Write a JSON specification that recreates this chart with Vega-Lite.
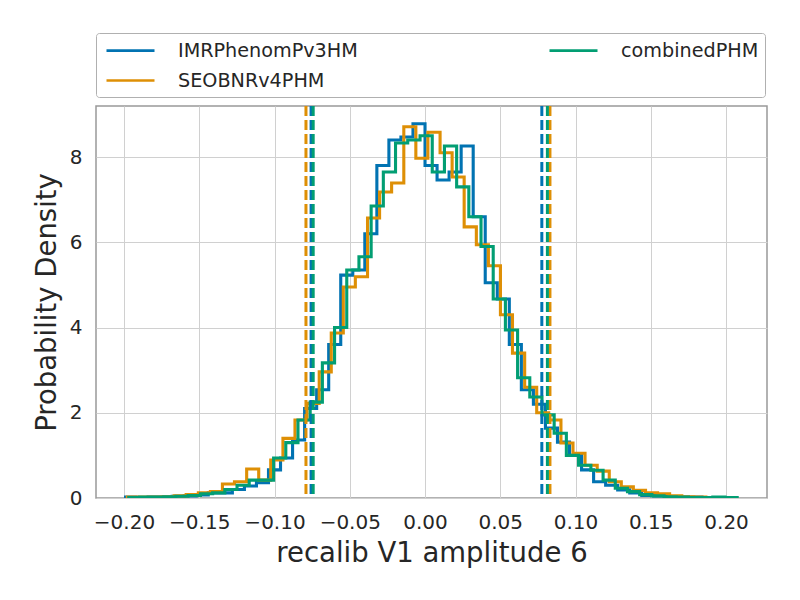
{
  "$schema": "https://vega.github.io/schema/vega-lite/v6.json",
  "width": 671,
  "height": 392,
  "autosize": "none",
  "padding": {"left": 96, "top": 106, "right": 33, "bottom": 102},
  "background": "white",
  "config": {
    "font": "DejaVu Sans",
    "view": {"stroke": "#999999", "strokeWidth": 1.5},
    "axis": {
      "grid": true, "gridColor": "#d0d0d0", "gridWidth": 1,
      "domain": false, "ticks": false,
      "labelFontSize": 20, "labelColor": "#262626", "labelPadding": 14,
      "titleFontSize": 27.5, "titleColor": "#262626", "titleFontWeight": "normal"
    },
    "legend": {
      "orient": "top", "columns": 2, "columnPadding": 186, "title": null,
      "symbolType": "M-0.7,0H4.1", "symbolSize": 400, "symbolStrokeWidth": 2.7,
      "labelFontSize": 19.2, "labelColor": "#262626", "labelOffset": 53, "labelLimit": 0,
      "padding": 6, "strokeColor": "#b0b0b0", "cornerRadius": 3, "offset": 9, "rowPadding": 8
    }
  },
  "datasets": {
    "hist": [
      {"model": "IMRPhenomPv3HM", "x": -0.200, "d": 0.02},
      {"model": "IMRPhenomPv3HM", "x": -0.192, "d": 0.01},
      {"model": "IMRPhenomPv3HM", "x": -0.184, "d": 0.02},
      {"model": "IMRPhenomPv3HM", "x": -0.176, "d": 0.02},
      {"model": "IMRPhenomPv3HM", "x": -0.168, "d": 0.04},
      {"model": "IMRPhenomPv3HM", "x": -0.160, "d": 0.05},
      {"model": "IMRPhenomPv3HM", "x": -0.152, "d": 0.07},
      {"model": "IMRPhenomPv3HM", "x": -0.144, "d": 0.12},
      {"model": "IMRPhenomPv3HM", "x": -0.136, "d": 0.12},
      {"model": "IMRPhenomPv3HM", "x": -0.128, "d": 0.20},
      {"model": "IMRPhenomPv3HM", "x": -0.120, "d": 0.28},
      {"model": "IMRPhenomPv3HM", "x": -0.112, "d": 0.36},
      {"model": "IMRPhenomPv3HM", "x": -0.104, "d": 0.66},
      {"model": "IMRPhenomPv3HM", "x": -0.096, "d": 0.94},
      {"model": "IMRPhenomPv3HM", "x": -0.088, "d": 1.36},
      {"model": "IMRPhenomPv3HM", "x": -0.080, "d": 2.10},
      {"model": "IMRPhenomPv3HM", "x": -0.072, "d": 2.54},
      {"model": "IMRPhenomPv3HM", "x": -0.064, "d": 3.60},
      {"model": "IMRPhenomPv3HM", "x": -0.056, "d": 5.23},
      {"model": "IMRPhenomPv3HM", "x": -0.048, "d": 5.35},
      {"model": "IMRPhenomPv3HM", "x": -0.040, "d": 6.20},
      {"model": "IMRPhenomPv3HM", "x": -0.032, "d": 7.80},
      {"model": "IMRPhenomPv3HM", "x": -0.024, "d": 8.40},
      {"model": "IMRPhenomPv3HM", "x": -0.016, "d": 8.47},
      {"model": "IMRPhenomPv3HM", "x": -0.008, "d": 8.78},
      {"model": "IMRPhenomPv3HM", "x": 0.000, "d": 7.80},
      {"model": "IMRPhenomPv3HM", "x": 0.008, "d": 7.46},
      {"model": "IMRPhenomPv3HM", "x": 0.016, "d": 7.65},
      {"model": "IMRPhenomPv3HM", "x": 0.024, "d": 8.26},
      {"model": "IMRPhenomPv3HM", "x": 0.032, "d": 6.60},
      {"model": "IMRPhenomPv3HM", "x": 0.040, "d": 5.05},
      {"model": "IMRPhenomPv3HM", "x": 0.048, "d": 4.67},
      {"model": "IMRPhenomPv3HM", "x": 0.056, "d": 3.60},
      {"model": "IMRPhenomPv3HM", "x": 0.064, "d": 2.54},
      {"model": "IMRPhenomPv3HM", "x": 0.072, "d": 2.20},
      {"model": "IMRPhenomPv3HM", "x": 0.080, "d": 1.64},
      {"model": "IMRPhenomPv3HM", "x": 0.088, "d": 1.31},
      {"model": "IMRPhenomPv3HM", "x": 0.096, "d": 1.00},
      {"model": "IMRPhenomPv3HM", "x": 0.104, "d": 0.66},
      {"model": "IMRPhenomPv3HM", "x": 0.112, "d": 0.38},
      {"model": "IMRPhenomPv3HM", "x": 0.120, "d": 0.30},
      {"model": "IMRPhenomPv3HM", "x": 0.128, "d": 0.19},
      {"model": "IMRPhenomPv3HM", "x": 0.136, "d": 0.12},
      {"model": "IMRPhenomPv3HM", "x": 0.144, "d": 0.06},
      {"model": "IMRPhenomPv3HM", "x": 0.152, "d": 0.05},
      {"model": "IMRPhenomPv3HM", "x": 0.160, "d": 0.03},
      {"model": "IMRPhenomPv3HM", "x": 0.168, "d": 0.02},
      {"model": "IMRPhenomPv3HM", "x": 0.176, "d": 0.02},
      {"model": "IMRPhenomPv3HM", "x": 0.184, "d": 0.01},
      {"model": "IMRPhenomPv3HM", "x": 0.192, "d": 0.01},
      {"model": "IMRPhenomPv3HM", "x": 0.200, "d": 0.0},

      {"model": "SEOBNRv4PHM", "x": -0.1988, "d": 0.02},
      {"model": "SEOBNRv4PHM", "x": -0.1908, "d": 0.02},
      {"model": "SEOBNRv4PHM", "x": -0.1828, "d": 0.02},
      {"model": "SEOBNRv4PHM", "x": -0.1747, "d": 0.03},
      {"model": "SEOBNRv4PHM", "x": -0.1667, "d": 0.05},
      {"model": "SEOBNRv4PHM", "x": -0.1587, "d": 0.08},
      {"model": "SEOBNRv4PHM", "x": -0.1506, "d": 0.12},
      {"model": "SEOBNRv4PHM", "x": -0.1426, "d": 0.15},
      {"model": "SEOBNRv4PHM", "x": -0.1346, "d": 0.33},
      {"model": "SEOBNRv4PHM", "x": -0.1266, "d": 0.38},
      {"model": "SEOBNRv4PHM", "x": -0.1185, "d": 0.68},
      {"model": "SEOBNRv4PHM", "x": -0.1105, "d": 0.42},
      {"model": "SEOBNRv4PHM", "x": -0.1025, "d": 0.89},
      {"model": "SEOBNRv4PHM", "x": -0.0944, "d": 1.40},
      {"model": "SEOBNRv4PHM", "x": -0.0864, "d": 1.83},
      {"model": "SEOBNRv4PHM", "x": -0.0784, "d": 2.22},
      {"model": "SEOBNRv4PHM", "x": -0.0703, "d": 2.96},
      {"model": "SEOBNRv4PHM", "x": -0.0623, "d": 3.87},
      {"model": "SEOBNRv4PHM", "x": -0.0543, "d": 4.95},
      {"model": "SEOBNRv4PHM", "x": -0.0463, "d": 5.19},
      {"model": "SEOBNRv4PHM", "x": -0.0382, "d": 6.57},
      {"model": "SEOBNRv4PHM", "x": -0.0302, "d": 7.18},
      {"model": "SEOBNRv4PHM", "x": -0.0222, "d": 7.39},
      {"model": "SEOBNRv4PHM", "x": -0.0141, "d": 8.71},
      {"model": "SEOBNRv4PHM", "x": -0.0061, "d": 7.97},
      {"model": "SEOBNRv4PHM", "x": 0.0019, "d": 8.58},
      {"model": "SEOBNRv4PHM", "x": 0.0100, "d": 8.10},
      {"model": "SEOBNRv4PHM", "x": 0.0180, "d": 7.53},
      {"model": "SEOBNRv4PHM", "x": 0.0260, "d": 6.36},
      {"model": "SEOBNRv4PHM", "x": 0.0341, "d": 5.94},
      {"model": "SEOBNRv4PHM", "x": 0.0421, "d": 5.45},
      {"model": "SEOBNRv4PHM", "x": 0.0501, "d": 4.30},
      {"model": "SEOBNRv4PHM", "x": 0.0581, "d": 3.40},
      {"model": "SEOBNRv4PHM", "x": 0.0662, "d": 2.60},
      {"model": "SEOBNRv4PHM", "x": 0.0742, "d": 2.00},
      {"model": "SEOBNRv4PHM", "x": 0.0822, "d": 1.83},
      {"model": "SEOBNRv4PHM", "x": 0.0903, "d": 1.29},
      {"model": "SEOBNRv4PHM", "x": 0.0983, "d": 1.05},
      {"model": "SEOBNRv4PHM", "x": 0.1063, "d": 0.77},
      {"model": "SEOBNRv4PHM", "x": 0.1144, "d": 0.63},
      {"model": "SEOBNRv4PHM", "x": 0.1224, "d": 0.38},
      {"model": "SEOBNRv4PHM", "x": 0.1304, "d": 0.26},
      {"model": "SEOBNRv4PHM", "x": 0.1384, "d": 0.18},
      {"model": "SEOBNRv4PHM", "x": 0.1465, "d": 0.12},
      {"model": "SEOBNRv4PHM", "x": 0.1545, "d": 0.10},
      {"model": "SEOBNRv4PHM", "x": 0.1625, "d": 0.05},
      {"model": "SEOBNRv4PHM", "x": 0.1706, "d": 0.03},
      {"model": "SEOBNRv4PHM", "x": 0.1786, "d": 0.02},
      {"model": "SEOBNRv4PHM", "x": 0.1866, "d": 0.01},
      {"model": "SEOBNRv4PHM", "x": 0.1946, "d": 0.0},

      {"model": "combinedPHM", "x": -0.1979, "d": 0.01},
      {"model": "combinedPHM", "x": -0.1898, "d": 0.02},
      {"model": "combinedPHM", "x": -0.1817, "d": 0.02},
      {"model": "combinedPHM", "x": -0.1736, "d": 0.03},
      {"model": "combinedPHM", "x": -0.1655, "d": 0.04},
      {"model": "combinedPHM", "x": -0.1574, "d": 0.06},
      {"model": "combinedPHM", "x": -0.1492, "d": 0.10},
      {"model": "combinedPHM", "x": -0.1411, "d": 0.12},
      {"model": "combinedPHM", "x": -0.1330, "d": 0.20},
      {"model": "combinedPHM", "x": -0.1249, "d": 0.30},
      {"model": "combinedPHM", "x": -0.1168, "d": 0.42},
      {"model": "combinedPHM", "x": -0.1087, "d": 0.42},
      {"model": "combinedPHM", "x": -0.1006, "d": 0.94},
      {"model": "combinedPHM", "x": -0.0925, "d": 1.30},
      {"model": "combinedPHM", "x": -0.0844, "d": 1.83},
      {"model": "combinedPHM", "x": -0.0763, "d": 2.25},
      {"model": "combinedPHM", "x": -0.0682, "d": 3.17},
      {"model": "combinedPHM", "x": -0.0601, "d": 4.00},
      {"model": "combinedPHM", "x": -0.0520, "d": 5.35},
      {"model": "combinedPHM", "x": -0.0439, "d": 5.66},
      {"model": "combinedPHM", "x": -0.0358, "d": 6.85},
      {"model": "combinedPHM", "x": -0.0277, "d": 7.65},
      {"model": "combinedPHM", "x": -0.0196, "d": 8.33},
      {"model": "combinedPHM", "x": -0.0115, "d": 8.40},
      {"model": "combinedPHM", "x": -0.0033, "d": 8.50},
      {"model": "combinedPHM", "x": 0.0048, "d": 7.65},
      {"model": "combinedPHM", "x": 0.0129, "d": 8.26},
      {"model": "combinedPHM", "x": 0.0210, "d": 7.30},
      {"model": "combinedPHM", "x": 0.0291, "d": 6.60},
      {"model": "combinedPHM", "x": 0.0372, "d": 5.90},
      {"model": "combinedPHM", "x": 0.0453, "d": 4.67},
      {"model": "combinedPHM", "x": 0.0534, "d": 3.94},
      {"model": "combinedPHM", "x": 0.0615, "d": 2.82},
      {"model": "combinedPHM", "x": 0.0696, "d": 2.37},
      {"model": "combinedPHM", "x": 0.0777, "d": 1.95},
      {"model": "combinedPHM", "x": 0.0858, "d": 1.52},
      {"model": "combinedPHM", "x": 0.0939, "d": 1.00},
      {"model": "combinedPHM", "x": 0.1020, "d": 0.77},
      {"model": "combinedPHM", "x": 0.1102, "d": 0.65},
      {"model": "combinedPHM", "x": 0.1183, "d": 0.42},
      {"model": "combinedPHM", "x": 0.1264, "d": 0.23},
      {"model": "combinedPHM", "x": 0.1345, "d": 0.15},
      {"model": "combinedPHM", "x": 0.1426, "d": 0.08},
      {"model": "combinedPHM", "x": 0.1507, "d": 0.05},
      {"model": "combinedPHM", "x": 0.1588, "d": 0.03},
      {"model": "combinedPHM", "x": 0.1669, "d": 0.02},
      {"model": "combinedPHM", "x": 0.1750, "d": 0.01},
      {"model": "combinedPHM", "x": 0.1831, "d": 0.01},
      {"model": "combinedPHM", "x": 0.1912, "d": 0.02},
      {"model": "combinedPHM", "x": 0.1993, "d": 0.01},
      {"model": "combinedPHM", "x": 0.2074, "d": 0.0}
    ],
    "bounds": [
      {"model": "IMRPhenomPv3HM", "v": -0.0757},
      {"model": "IMRPhenomPv3HM", "v": 0.0776},
      {"model": "SEOBNRv4PHM", "v": -0.0791},
      {"model": "SEOBNRv4PHM", "v": 0.0830},
      {"model": "combinedPHM", "v": -0.0743},
      {"model": "combinedPHM", "v": 0.0813}
    ]
  },
  "layer": [
    {
      "data": {"name": "hist"},
      "mark": {"type": "line", "interpolate": "step-after", "strokeWidth": 3.1, "clip": true},
      "encoding": {
        "x": {"field": "x", "type": "quantitative", "scale": {"domain": [-0.2186, 0.2272], "nice": false, "zero": false},
              "axis": {"values": [-0.2, -0.15, -0.1, -0.05, 0, 0.05, 0.1, 0.15, 0.2], "format": ".2f", "title": "recalib V1 amplitude 6", "titlePadding": 7}},
        "y": {"field": "d", "type": "quantitative", "scale": {"domain": [0, 9.197], "nice": false},
              "axis": {"values": [0, 2, 4, 6, 8], "title": "Probability Density", "titlePadding": 8}},
        "color": {"field": "model", "type": "nominal",
                  "scale": {"domain": ["IMRPhenomPv3HM", "combinedPHM", "SEOBNRv4PHM"], "range": ["#0173b2", "#029e73", "#de8f05"]}},
        "order": {"field": "x", "type": "quantitative"}
      }
    },
    {
      "data": {"name": "bounds"},
      "mark": {"type": "rule", "strokeWidth": 3, "strokeDash": [10, 4]},
      "encoding": {
        "x": {"field": "v", "type": "quantitative"},
        "color": {"field": "model", "type": "nominal"}
      }
    }
  ]
}
